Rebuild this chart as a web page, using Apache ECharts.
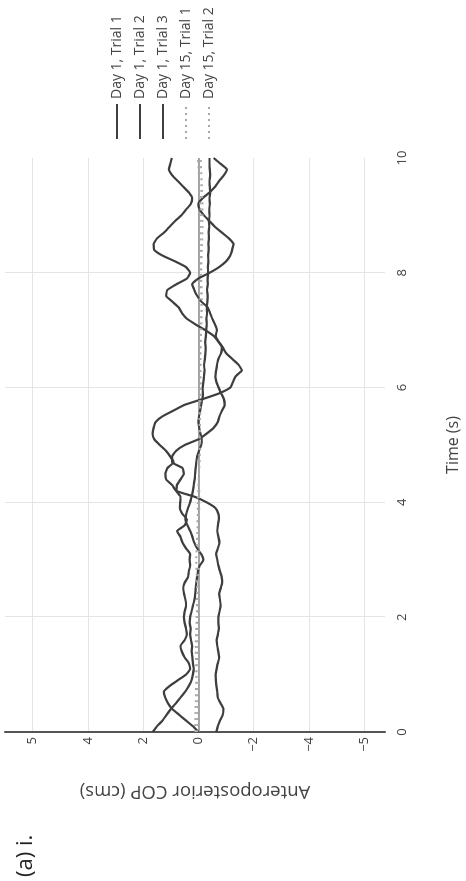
<!DOCTYPE html>
<html>
<head>
<meta charset="utf-8">
<script src="https://cdn.jsdelivr.net/npm/echarts@6/dist/echarts.min.js"></script>
<style>
html,body{margin:0;padding:0;width:466px;height:881px;overflow:hidden;background:#fff;}
#chart{position:absolute;left:0;top:0;width:881px;height:466px;transform-origin:0 0;transform:translate(0,881px) rotate(-90deg);}
</style>
</head>
<body>
<div id="chart"></div>
<script>
// ---- data ----
const seriesNames = ['Day 1, Trial 1','Day 1, Trial 2','Day 1, Trial 3','Day 15, Trial 1','Day 15, Trial 2'];
const timeFine = [0,0.1,0.2,0.3,0.4,0.5,0.6,0.7,0.8,0.9,1,1.1,1.2,1.3,1.4,1.5,1.6,1.7,1.8,1.9,2,2.1,2.2,2.3,2.4,2.5,2.6,2.7,2.8,2.9,3,3.1,3.2,3.3,3.4,3.5,3.6,3.7,3.8,3.9,4,4.1,4.2,4.3,4.4,4.5,4.6,4.7,4.8,4.9,5,5.1,5.2,5.3,5.4,5.5,5.6,5.7,5.8,5.9,6,6.1,6.2,6.3,6.4,6.5,6.6,6.7,6.8,6.9,7,7.1,7.2,7.3,7.4,7.5,7.6,7.7,7.8,7.9,8,8.1,8.2,8.3,8.4,8.5,8.6,8.7,8.8,8.9,9,9.1,9.2,9.3,9.4,9.5,9.6,9.7,9.8,9.9,10];
const timeCoarse = [0,0.5,1,1.5,2,2.5,3,3.5,4,4.5,5,5.5,6,6.5,7,7.5,8,8.5,9,9.5,10];
const day1Trial1 = [1.66,1.5,1.3,1.15,1.0,0.82,0.65,0.48,0.35,0.25,
  0.2,0.17,0.2,0.22,0.25,0.23,0.27,0.3,0.28,0.32,
  0.3,0.25,0.2,0.15,0.12,0.1,0.08,0.05,0.02,-0.05,
  -0.18,-0.1,0.05,0.15,0.22,0.3,0.4,0.47,0.44,0.38,
  0.3,0.25,0.2,0.17,0.14,0.12,0.1,0.08,0.05,-0.02,
  -0.1,-0.12,-0.07,-0.03,0.0,-0.02,-0.06,-0.1,-0.14,-0.16,
  -0.15,-0.18,-0.2,-0.22,-0.2,-0.23,-0.25,-0.26,-0.24,-0.27,
  -0.28,-0.3,-0.29,-0.31,-0.3,-0.32,-0.33,-0.31,-0.34,-0.33,
  -0.35,-0.34,-0.36,-0.35,-0.37,-0.36,-0.38,-0.37,-0.39,-0.38,
  -0.4,-0.39,-0.41,-0.4,-0.42,-0.41,-0.4,-0.42,-0.41,-0.4,
  -0.4];
const day1Trial2 = [0.0,0.2,0.45,0.7,0.95,1.1,1.2,1.25,1.05,0.75,
  0.45,0.3,0.35,0.5,0.6,0.65,0.5,0.42,0.45,0.5,
  0.53,0.5,0.45,0.47,0.52,0.55,0.5,0.38,0.35,0.3,
  0.32,0.3,0.45,0.58,0.65,0.77,0.5,0.42,0.58,0.67,
  0.66,0.65,0.8,0.78,0.65,0.53,0.58,0.95,0.95,0.8,
  0.5,0.0,-0.3,-0.55,-0.7,-0.76,-0.85,-0.95,-0.92,-0.82,
  -0.73,-0.65,-0.61,-0.64,-0.67,-0.72,-0.82,-0.85,-0.73,-0.62,
  -0.67,-0.6,-0.5,-0.42,-0.33,-0.1,0.05,0.15,0.23,0.0,
  -0.4,-0.75,-1.0,-1.15,-1.22,-1.27,-1.1,-0.85,-0.6,-0.4,
  -0.2,-0.05,0.0,-0.15,-0.4,-0.6,-0.75,-0.92,-1.03,-0.8,
  -0.55];
const day1Trial3 = [-0.65,-0.7,-0.78,-0.88,-0.9,-0.8,-0.7,-0.68,-0.65,-0.63,
  -0.62,-0.66,-0.7,-0.75,-0.72,-0.68,-0.66,-0.7,-0.74,-0.72,
  -0.72,-0.76,-0.8,-0.78,-0.75,-0.8,-0.86,-0.84,-0.78,-0.72,
  -0.68,-0.64,-0.7,-0.76,-0.72,-0.68,-0.7,-0.74,-0.72,-0.62,
  -0.3,0.15,0.8,0.95,1.17,1.2,1.12,0.9,1.02,1.18,
  1.4,1.6,1.66,1.62,1.55,1.3,0.9,0.5,-0.15,-0.75,
  -1.15,-1.25,-1.35,-1.57,-1.45,-1.22,-1.0,-0.88,-0.72,-0.55,
  -0.25,0.1,0.42,0.6,0.72,0.95,1.17,1.13,0.8,0.42,
  0.3,0.45,0.85,1.3,1.6,1.62,1.5,1.25,1.05,0.85,
  0.62,0.45,0.28,0.23,0.35,0.55,0.75,0.95,1.07,1.02,
  0.96];
const day15Trial1 = [0.12,0.1,0.08,0.1,0.06,0.05,0.08,0.04,0.02,-0.02,-0.05,-0.06,-0.08,-0.07,-0.1,-0.12,-0.1,-0.13,-0.15,-0.12,-0.08];
const day15Trial2 = [0.05,0.03,0.0,0.04,0.02,0.0,-0.02,0.0,-0.03,-0.02,-0.05,-0.03,-0.04,-0.06,-0.05,-0.04,-0.07,-0.05,-0.08,-0.04,0.02];
const xTickValues = [0,2,4,6,8,10];
const yTickValues = [-6,-4,-2,0,2,4,6];
const yTickLabels = ['−5','−4','−2','0','2','4','5'];

// ---- chart ----
const pair = (ts, vs) => ts.map((t, i) => [t, vs[i]]);
const FONT = 'Open Sans';
const chart = echarts.init(document.getElementById('chart'), null, {width: 881, height: 466, renderer: 'canvas'});
const solid = {color: '#3e3e3e', width: 2.2, type: 'solid'};
const dotted = {color: '#a8a8a8', width: 2, type: [2, 4]};
function mk(name, ts, vs, ls, extra) {
  return Object.assign({
    name: name, type: 'line', data: pair(ts, vs), symbol: 'none', showSymbol: false,
    smooth: 0.15, lineStyle: ls, itemStyle: {color: ls.color}, animation: false, z: 3
  }, extra || {});
}
chart.setOption({
  animation: false,
  backgroundColor: '#ffffff',
  textStyle: {fontFamily: FONT},
  title: {
    text: '(a) i.', left: -1, top: 10,
    textStyle: {fontFamily: FONT, fontSize: 22, fontWeight: 'normal', color: '#222'}
  },
  legend: {
    orient: 'vertical', left: 736, top: 105,
    itemWidth: 35, itemHeight: 14, itemGap: 9,
    itemStyle: {opacity: 0},
    textStyle: {fontFamily: FONT, fontSize: 14, color: '#444'},
    data: seriesNames
  },
  grid: {left: 149, right: 158, top: 5, bottom: 81, containLabel: false},
  xAxis: {
    type: 'value', min: 0, max: 10, interval: 2,
    name: 'Time (s)', nameLocation: 'middle', nameGap: 60,
    nameTextStyle: {fontFamily: FONT, fontSize: 16, color: '#444'},
    axisLine: {show: false}, axisTick: {show: false},
    axisLabel: {fontFamily: FONT, fontSize: 13, color: '#444', margin: 11},
    splitLine: {show: true, showMinLine: false, showMaxLine: false, lineStyle: {color: '#e4e4e4', width: 1}}
  },
  yAxis: {
    type: 'value', min: -6.75, max: 7,
    name: 'Anteroposterior COP (cms)', nameLocation: 'middle', nameGap: 50,
    nameTextStyle: {fontFamily: FONT, fontSize: 18.5, color: '#444'},
    axisLine: {show: true, onZero: false, lineStyle: {color: '#555', width: 2}},
    axisTick: {show: false, customValues: yTickValues},
    axisLabel: {
      fontFamily: FONT, fontSize: 13, color: '#444', margin: 5,
      customValues: yTickValues,
      formatter: v => { const i = yTickValues.indexOf(Math.round(v)); return i >= 0 ? yTickLabels[i] : ''; }
    },
    splitLine: {show: true, lineStyle: {color: '#e4e4e4', width: 1}}
  },
  series: [
    mk(seriesNames[0], timeFine, day1Trial1, solid, {
      markLine: {silent: true, symbol: 'none', label: {show: false}, animation: false,
        lineStyle: {color: '#8a8a8a', width: 1.5, type: 'solid'}, data: [{yAxis: 0}], z: 1}
    }),
    mk(seriesNames[1], timeFine, day1Trial2, solid),
    mk(seriesNames[2], timeFine, day1Trial3, solid),
    mk(seriesNames[3], timeCoarse, day15Trial1, dotted, {smooth: 0.3, z: 4}),
    mk(seriesNames[4], timeCoarse, day15Trial2, dotted, {smooth: 0.3, z: 4})
  ]
});
</script>
</body>
</html>
